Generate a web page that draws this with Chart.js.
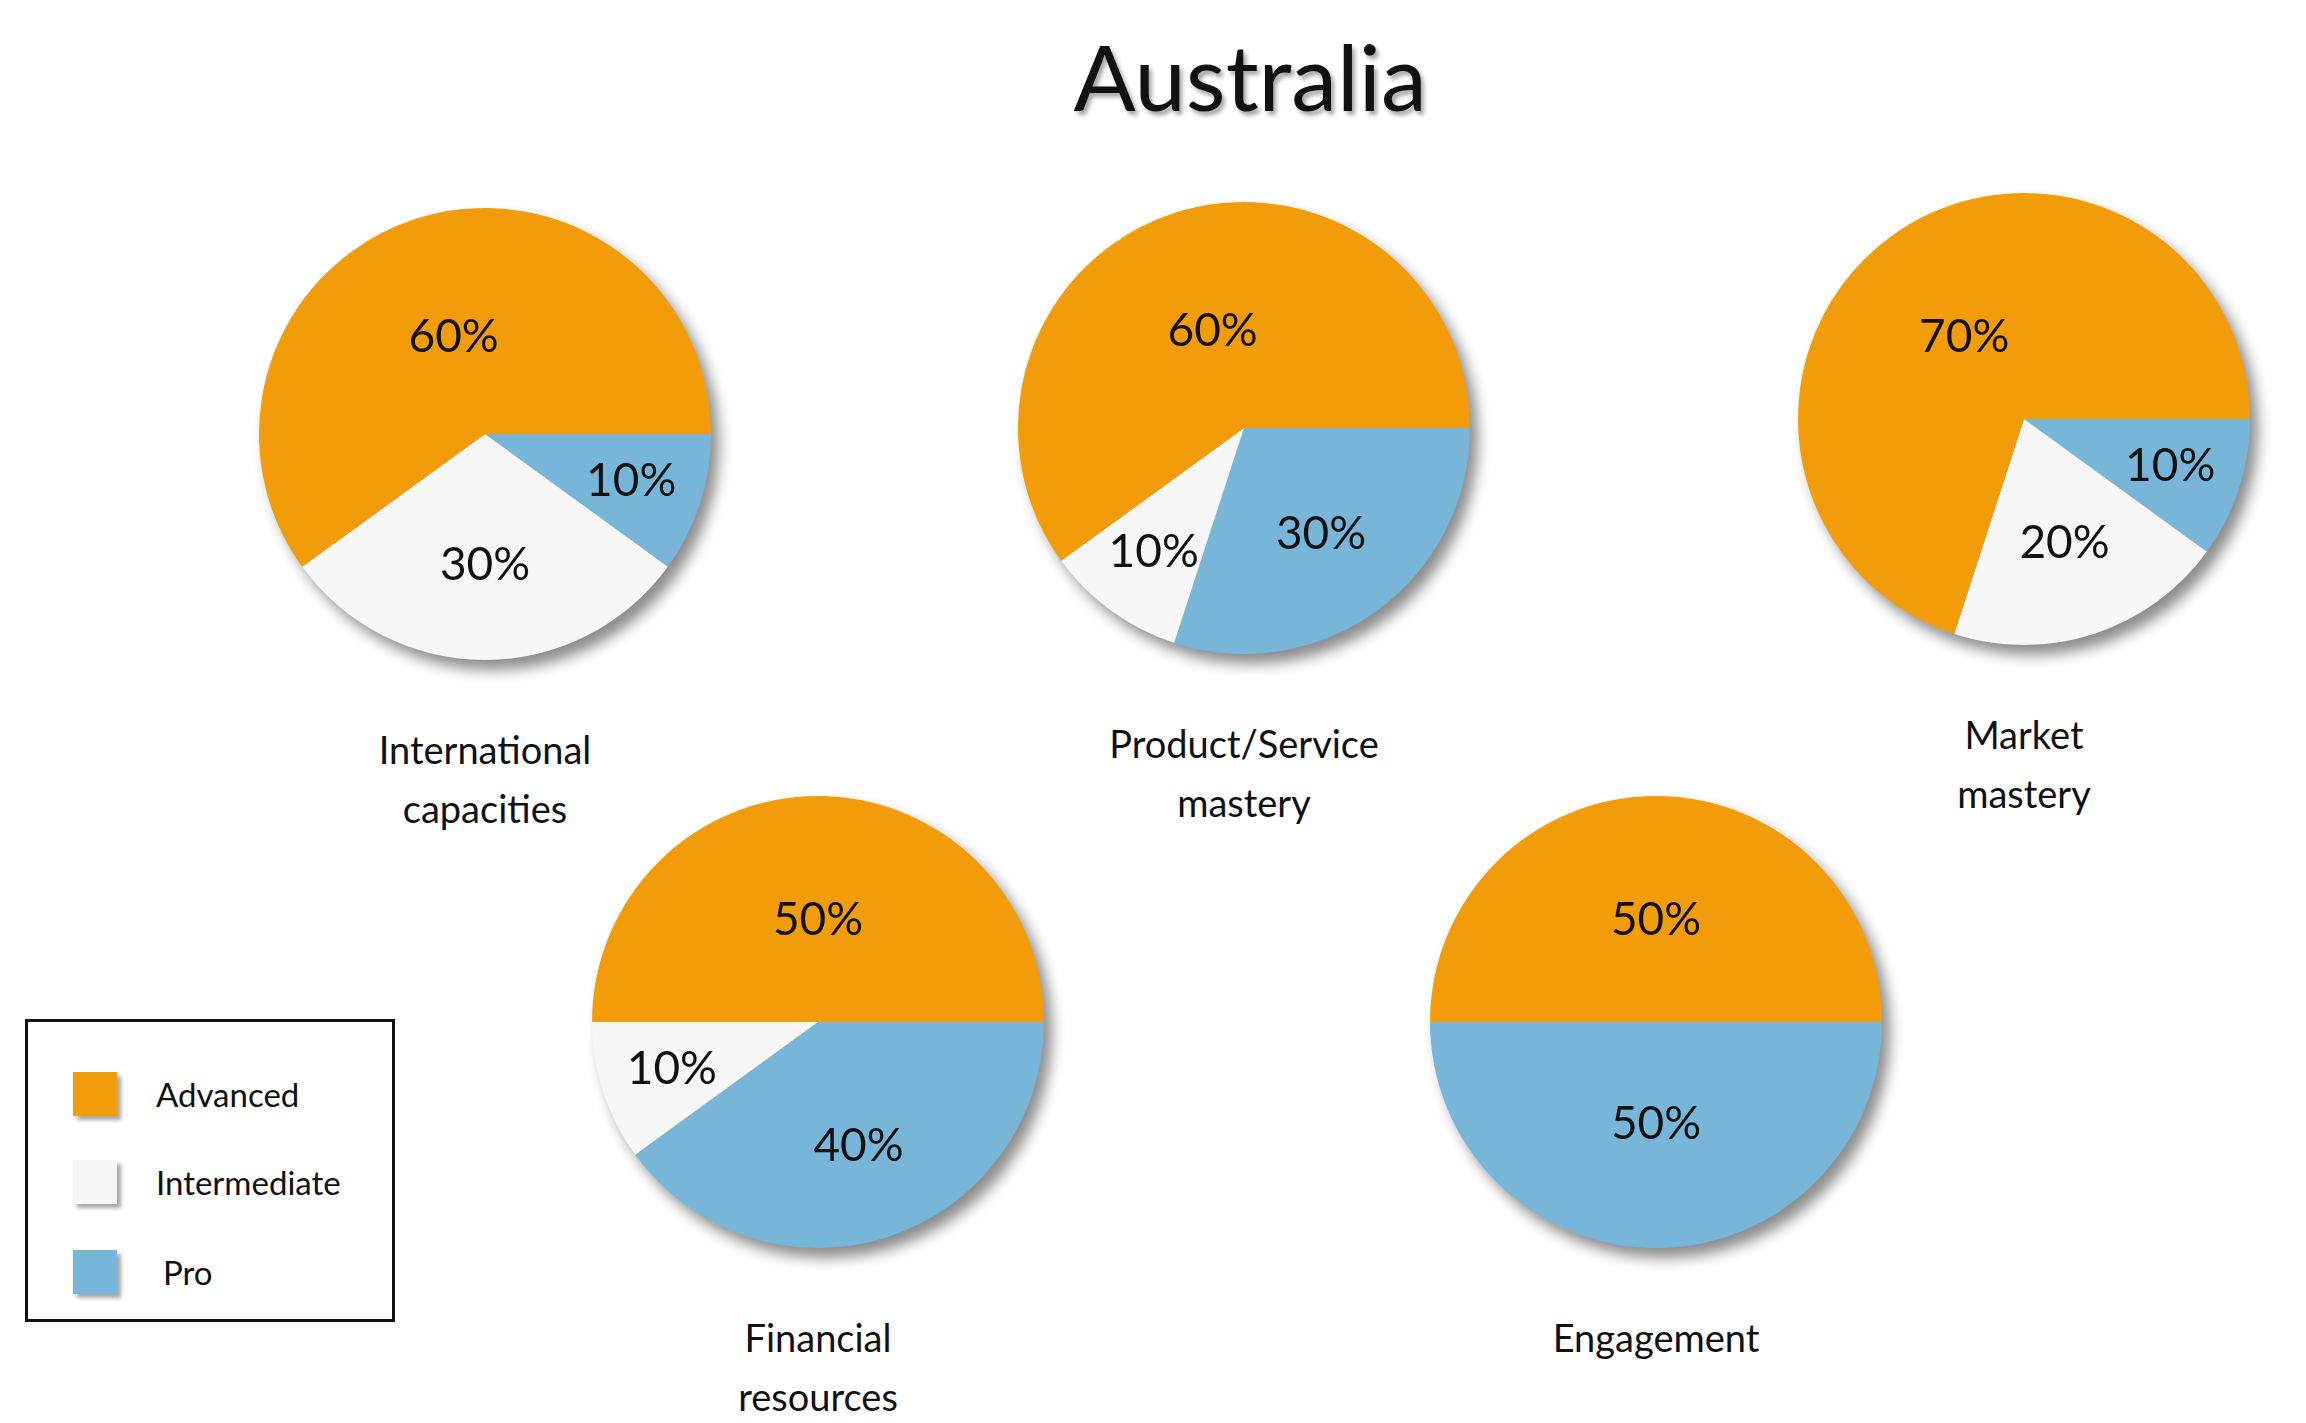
<!DOCTYPE html>
<html><head><meta charset="utf-8">
<script src="https://cdn.jsdelivr.net/npm/chart.js@4/dist/chart.umd.min.js"></script>
<style>
body{margin:0;width:2306px;height:1423px;background:#fff;position:relative;font-family:Lato,"Noto Sans",sans-serif;overflow:hidden}
.t{position:absolute;text-align:center;color:#111}
canvas.p{position:absolute;filter:drop-shadow(8px 10px 7px rgba(0,0,0,0.45))}
.lg{position:absolute;left:25px;top:1019px;width:370px;height:303px;border:3px solid #111;box-sizing:border-box}
.li{position:absolute;left:45px;font-size:33px;color:#111}
.sw{position:absolute;left:-0px;width:44px;height:44px;box-shadow:4px 4px 4px rgba(0,0,0,0.35)}
</style></head><body>
<div class="t" style="left:850px;width:800px;top:20px;font-size:92px;text-shadow:3px 4px 4px rgba(0,0,0,0.35)">Australia</div>
<div id="root"></div>
<div class="lg"></div>
<script>
const categories=["Pro","Intermediate","Advanced"];
const colors=["#78b6d9","#f7f7f7","#f39c0a"];
const chartTitles=[["International","capacities"],["Product/Service","mastery"],["Market","mastery"],["Financial","resources"],["Engagement"]];
const proValues=[10,30,10,40,50];
const intermediateValues=[30,10,20,10,0];
const advancedValues=[60,60,70,50,50];
const centers=[[485,434],[1244,428],[2024,419],[818,1022],[1656,1022]];
const R=226;
const labelPlugin={id:'lbl',afterDatasetsDraw(c){
  const ctx=c.ctx;const meta=c.getDatasetMeta(0);const ds=c.data.datasets[0].data;
  ctx.save();ctx.font='46px Lato, "Noto Sans", sans-serif';ctx.fillStyle='#111';ctx.textAlign='center';ctx.textBaseline='middle';
  meta.data.forEach((a,i)=>{if(!ds[i])return;const m=(a.startAngle+a.endAngle)/2;
    const f=ds[i]>=50?0.45:(ds[i]<=10?0.68:0.58);
    ctx.fillText(ds[i]+'%',a.x+Math.cos(m)*a.outerRadius*f,a.y+Math.sin(m)*a.outerRadius*f);});
  ctx.restore();}};
const root=document.getElementById('root');
centers.forEach((c,k)=>{
  const cv=document.createElement('canvas');cv.className='p';cv.width=2*R;cv.height=2*R;
  cv.style.left=(c[0]-R)+'px';cv.style.top=(c[1]-R)+'px';cv.style.width=2*R+'px';cv.style.height=2*R+'px';
  root.appendChild(cv);
  new Chart(cv,{type:'pie',data:{labels:categories,datasets:[{data:[proValues[k],intermediateValues[k],advancedValues[k]],backgroundColor:colors,borderWidth:0}]},
    options:{responsive:false,animation:false,rotation:90,plugins:{legend:{display:false},tooltip:{enabled:false}}},plugins:[labelPlugin]});
  const t=document.createElement('div');t.className='t';t.style.left=(c[0]-250)+'px';t.style.width='500px';
  t.style.top=(c[1]+R+60)+'px';t.style.fontSize='38px';t.style.lineHeight='59px';t.innerHTML=chartTitles[k].join('<br>');root.appendChild(t);
});
const lg=document.querySelector('.lg');
[["Advanced",colors[2],50],["Intermediate",colors[1],138],["Pro",colors[0],228]].forEach(([n,col,y],i)=>{
  const d=document.createElement('div');d.className='sw';d.style.left='45px';d.style.top=y+'px';d.style.background=col;lg.appendChild(d);
  const s=document.createElement('div');s.className='li';s.style.left=(i==2?'135px':'128px');s.style.top=(y+2)+'px';s.textContent=n;lg.appendChild(s);
});
</script>
</body></html>
